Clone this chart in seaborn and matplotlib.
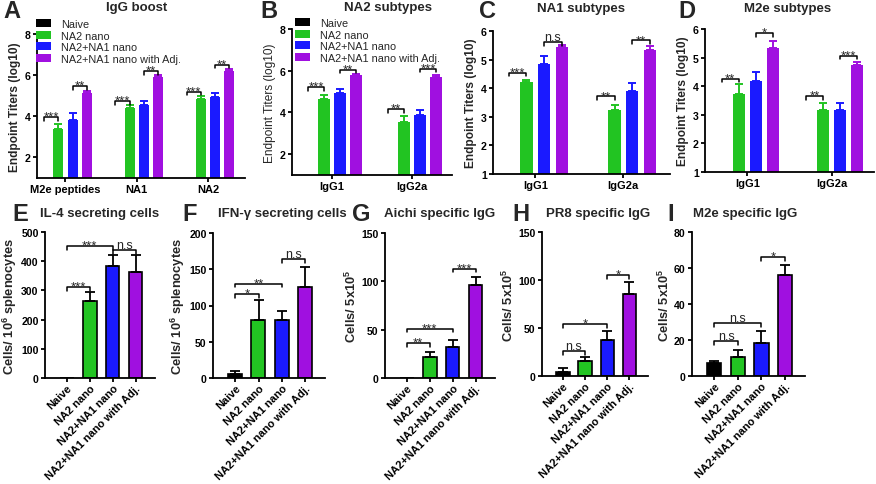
import numpy as np
import pandas as pd
import matplotlib
matplotlib.use("Agg")
import matplotlib.pyplot as plt
import seaborn as sns
from matplotlib.patches import Patch

sns.set_theme(style="ticks")
plt.rcParams["font.family"] = ["Liberation Sans", "DejaVu Sans"]
plt.rcParams["mathtext.fontset"] = "custom"
plt.rcParams["mathtext.rm"] = "Liberation Sans:bold"
plt.rcParams["mathtext.it"] = "Liberation Sans:bold"
plt.rcParams["mathtext.bf"] = "Liberation Sans:bold"

# ---------------- data ----------------
series = ["Naive", "NA2 nano", "NA2+NA1 nano", "NA2+NA1 nano with Adj."]
colors = ["#000000", "#22c422", "#1a1aff", "#a010e0"]

A_groups = ["M2e peptides", "NA1", "NA2"]
A_mean = [[0, 0, 0], [3.4, 4.38, 4.85], [3.8, 4.55, 4.93], [5.15, 5.9, 6.2]]
A_err = [[0, 0, 0], [0.22, 0.15, 0.15], [0.35, 0.2, 0.2], [0.1, 0.1, 0.08]]
A_sig = [(0, 0, 1, 3.95, "***"), (0, 2, 3, 5.46, "**"), (1, 0, 1, 4.73, "***"),
         (1, 2, 3, 6.2, "**"), (2, 0, 1, 5.2, "***"), (2, 2, 3, 6.5, "**")]

B_groups = ["IgG1", "IgG2a"]
B_mean = [[0, 0], [4.65, 3.55], [4.93, 3.88], [5.8, 5.7]]
B_err = [[0, 0], [0.2, 0.3], [0.2, 0.25], [0.02, 0.1]]
B_sig = [(0, 0, 1, 5.2, "***"), (0, 2, 3, 6.05, "**"), (1, 0, 1, 4.15, "**"), (1, 2, 3, 6.1, "***")]

C_groups = ["IgG1", "IgG2a"]
C_mean = [[0, 0], [4.2, 3.25], [4.85, 3.9], [5.43, 5.33]]
C_err = [[0, 0], [0.1, 0.15], [0.27, 0.28], [0.08, 0.15]]
C_sig = [(0, 0, 1, 4.54, "***"), (0, 2, 3, 5.61, "n.s"), (1, 0, 1, 3.71, "**"), (1, 2, 3, 5.67, "**")]

D_groups = ["IgG1", "IgG2a"]
D_mean = [[0, 0], [3.73, 3.18], [4.18, 3.18], [5.32, 4.75]]
D_err = [[0, 0], [0.33, 0.25], [0.33, 0.25], [0.27, 0.1]]
D_sig = [(0, 0, 1, 4.26, "**"), (0, 2, 3, 5.85, "*"), (1, 0, 1, 3.65, "**"), (1, 2, 3, 5.07, "***")]

E_mean = [0, 265, 385, 363]
E_err = [0, 28, 35, 58]
E_sig = [(0, 1, 311, "***"), (0, 2, 452, "***"), (2, 3, 438, "n.s")]

F_mean = [5, 80, 80, 125]
F_err = [4, 27, 13, 28]
F_sig = [(0, 1, 116, "*"), (0, 2, 130, "**"), (2, 3, 164, "n.s")]

G_mean = [0, 22, 32, 96]
G_err = [0, 5, 7, 9]
G_sig = [(0, 1, 36, "**"), (0, 2, 51, "***"), (2, 3, 113, "***")]

H_mean = [4, 16, 38, 85]
H_err = [4, 4, 9, 13]
H_sig = [(0, 1, 26, "n.s"), (0, 2, 54, "*"), (2, 3, 105, "*")]

I_mean = [7.3, 10.8, 18.2, 56]
I_err = [1.0, 3.7, 7, 5.5]
I_sig = [(0, 1, 19.5, "n.s"), (0, 2, 29.4, "n.s"), (2, 3, 66, "*")]

# ---------------- figure ----------------
W, H = 876, 485
fig = plt.figure(figsize=(W / 100, H / 100), dpi=100)


def add_ax(l, t, r, b):
    return fig.add_axes([l / W, 1 - b / H, (r - l) / W, (b - t) / H])


def style_axis(ax, ylim, yticks):
    ax.set_ylim(*ylim)
    ax.set_yticks(yticks)
    sns.despine(ax=ax)
    for s in ["left", "bottom"]:
        ax.spines[s].set_linewidth(1.3)
        ax.spines[s].set_color("black")
    ax.tick_params(axis="both", direction="out", length=3, width=1.3, pad=1.5, colors="black")
    ax.tick_params(axis="y", labelsize=7.6)
    ax.tick_params(axis="x", labelsize=8.0)
    for lab in ax.get_xticklabels() + ax.get_yticklabels():
        lab.set_fontweight("bold")
    ax.set_xlabel("")
    ax.set_facecolor("none")


def bracket(ax, x1, x2, y, txt, leg):
    ax.plot([x1, x1, x2, x2], [y - leg, y, y, y - leg], color="black", lw=1.1, clip_on=False)
    if txt == "n.s":
        ax.annotate(txt, ((x1 + x2) / 2, y), xytext=(0, 1.3), textcoords="offset points",
                    ha="center", va="baseline", fontsize=9, annotation_clip=False)
    else:
        ax.annotate(txt, ((x1 + x2) / 2, y), xytext=(0, -1.8), textcoords="offset points",
                    ha="center", va="baseline", fontsize=9.5, annotation_clip=False)


def top_panel(rect, groups, means, errs, sigs, ylim, yticks, xlim, ylabel_bold=True):
    ax = add_ax(*rect)
    rows = [(g, s, means[si][gi]) for si, s in enumerate(series) for gi, g in enumerate(groups)]
    df = pd.DataFrame(rows, columns=["group", "series", "value"])
    sns.barplot(data=df, x="group", y="value", hue="series", order=groups, hue_order=series,
                palette=colors, saturation=1, gap=0.3, errorbar=None, legend=False,
                linewidth=0, ax=ax)
    pats = sorted(ax.patches, key=lambda p: p.get_x())
    centers = {}
    for gi in range(len(groups)):
        for si in range(len(series)):
            p = pats[gi * 4 + si]
            xc = p.get_x() + p.get_width() / 2
            centers[(gi, si)] = xc
            if errs[si][gi] > 0:
                ax.errorbar(xc, means[si][gi], yerr=[[0], [errs[si][gi]]], fmt="none",
                            ecolor=colors[si], elinewidth=1.4, capsize=3, capthick=1.4)
    leg = (ylim[1] - ylim[0]) * 0.025
    for gi, a, b, y, t in sigs:
        bracket(ax, centers[(gi, a)], centers[(gi, b)], y, t, leg)
    ax.set_xlim(*xlim)
    style_axis(ax, ylim, yticks)
    ax.set_ylabel("Endpoint Titers (log10)", fontsize=8.6,
                  fontweight="bold" if ylabel_bold else "normal", labelpad=3)
    return ax


def bottom_panel(rect, means, errs, sigs, ylim, yticks, ylabel):
    ax = add_ax(*rect)
    df = pd.DataFrame({"group": series, "value": means})
    sns.barplot(data=df, x="group", y="value", hue="group", order=series, hue_order=series,
                palette=colors, saturation=1, width=0.6, errorbar=None, legend=False,
                edgecolor="black", linewidth=1.2, ax=ax)
    pats = sorted(ax.patches, key=lambda p: p.get_x())
    centers = []
    for i, p in enumerate(pats):
        xc = p.get_x() + p.get_width() / 2
        centers.append(xc)
        if errs[i] > 0:
            ax.errorbar(xc, means[i], yerr=[[0], [errs[i]]], fmt="none", ecolor="black",
                        elinewidth=1.3, capsize=3.5, capthick=1.3)
    leg = (ylim[1] - ylim[0]) * 0.025
    for a, b, y, t in sigs:
        bracket(ax, centers[a], centers[b], y, t, leg)
    ax.set_xlim(-0.95, 3.85)
    style_axis(ax, ylim, yticks)
    ax.set_xticks(range(4))
    ax.set_xticklabels(series, rotation=45, ha="right", rotation_mode="anchor",
                       fontweight="bold", fontsize=7.9)
    ax.tick_params(axis="x", pad=0.5)
    ax.set_ylabel(ylabel, fontsize=9.3, fontweight="bold", labelpad=1.5)
    return ax


axA = top_panel((37, 35, 245, 179), A_groups, A_mean, A_err, A_sig, (1, 8), [2, 4, 6, 8],
                (-0.4, 2.52), True)
axB = top_panel((292, 30, 452, 176), B_groups, B_mean, B_err, B_sig, (1, 8), [2, 4, 6, 8],
                (-0.5, 1.5), False)
axC = top_panel((493, 32, 670, 175), C_groups, C_mean, C_err, C_sig, (1, 6), [1, 2, 3, 4, 5, 6],
                (-0.48, 1.53), True)
axD = top_panel((705, 30, 874, 173), D_groups, D_mean, D_err, D_sig, (1, 6), [1, 2, 3, 4, 5, 6],
                (-0.5, 1.5), True)

lab6 = r"Cells/ 10$^{6}$ splenocytes"
lab5 = r"Cells/ 5x10$^{5}$"
axE = bottom_panel((45, 233, 155, 379), E_mean, E_err, E_sig, (0, 500), [0, 100, 200, 300, 400, 500], lab6)
axF = bottom_panel((213, 234, 325, 379), F_mean, F_err, F_sig, (0, 200), [0, 50, 100, 150, 200], lab6)
axG = bottom_panel((385, 234, 495, 379), G_mean, G_err, G_sig, (0, 150), [0, 50, 100, 150], lab5)
axH = bottom_panel((542, 233, 648, 377), H_mean, H_err, H_sig, (0, 150), [0, 50, 100, 150], lab5)
axI = bottom_panel((692, 233, 805, 377), I_mean, I_err, I_sig, (0, 80), [0, 20, 40, 60, 80], lab5)

# legends
handles = [Patch(facecolor=c, edgecolor="none") for c in colors]
for ax, (lx, ly) in [(axA, (36, 20)), (axB, (295, 19))]:
    ax.legend(handles, series, loc="upper left", bbox_to_anchor=(lx / W, 1 - ly / H),
              bbox_transform=fig.transFigure, frameon=False, fontsize=7.8, handlelength=1.35,
              handleheight=0.7, labelspacing=0.14, handletextpad=1.0, borderpad=0,
              borderaxespad=0)

# titles and panel letters
titles = [("IgG boost", 137, 8), ("NA2 subtypes", 388, 8), ("NA1 subtypes", 581, 9),
          ("M2e subtypes", 788, 9), ("IL-4 secreting cells", 100, 214),
          ("IFN-\u03b3 secreting cells", 282, 214), ("Aichi specific IgG", 440, 214),
          ("PR8 specific IgG", 598, 214), ("M2e specific IgG", 745, 214)]
for t, x, y in titles:
    fig.text(x / W, 1 - y / H, t, ha="center", va="center", fontsize=9.5, fontweight="bold")

letters = [("A", 3, 12), ("B", 260, 11), ("C", 479, 12), ("D", 678, 11), ("E", 12, 215),
           ("F", 182, 215), ("G", 352, 215), ("H", 512, 215), ("I", 667, 215)]
for t, x, y in letters:
    fig.text(x / W, 1 - y / H, t, ha="left", va="center", fontsize=17, fontweight="bold")

fig.savefig("out.png", dpi=100)
